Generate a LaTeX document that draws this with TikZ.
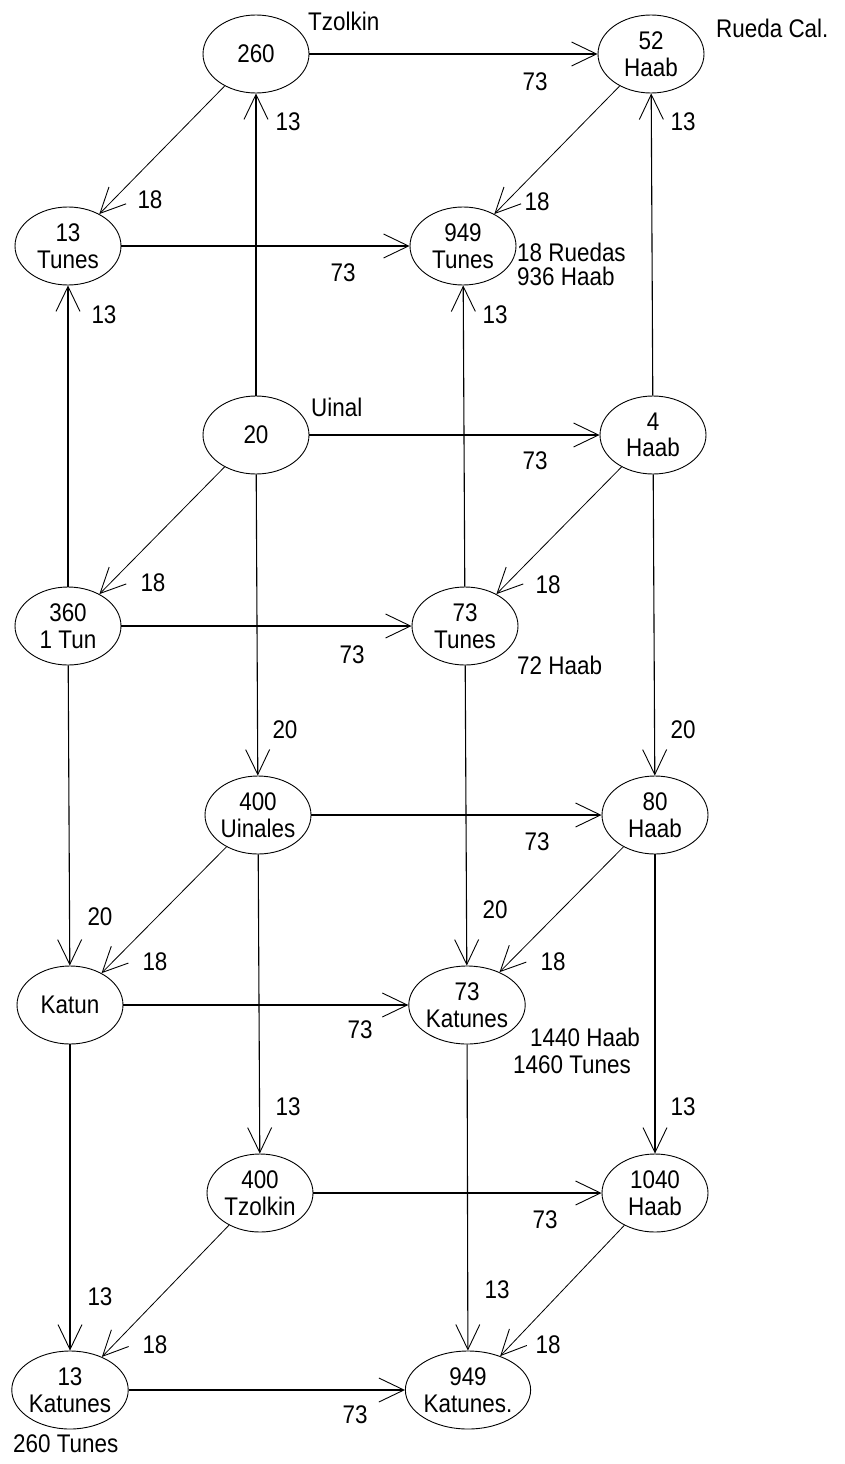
\documentclass[tikz,border=0pt]{standalone}
\usepackage{fontspec}
\setmainfont{Liberation Sans}[FakeStretch=0.88]
\usetikzlibrary{shapes.geometric,arrows.meta}

\tikzset{
  state/.style={ellipse, draw, line width=0.9pt, minimum width=106pt, minimum height=78pt,
    inner sep=0pt, align=center, font=\fontsize{25.5}{26.5}\selectfont},
  link/.style={line width=1.1pt, -{Straight Barb[length=25pt,width=24pt,line width=0.9pt]}},
  diag/.style={link, line width=0.8pt},
  lbl/.style={font=\fontsize{25.5}{26.5}\selectfont, inner sep=0pt},
  note/.style={lbl, anchor=west, align=left}
}

\begin{document}
\begin{tikzpicture}[x=1pt, y=-1pt]
\useasboundingbox (0,0) rectangle (845,1464);

% cycle nodes
\node[state] (n260)  at (256,54)   {260};
\node[state] (n52)   at (651,54)   {52\\Haab};
\node[state] (n13T)  at (68,246)   {13\\Tunes};
\node[state] (n949T) at (463,246)  {949\\Tunes};
\node[state] (n20)   at (256,435)  {20};
\node[state] (n4H)   at (653,435)  {4\\Haab};
\node[state] (n360)  at (68,626)   {360\\1 Tun};
\node[state] (n73T)  at (465,626)  {73\\Tunes};
\node[state] (n400U) at (258,815)  {400\\Uinales};
\node[state] (n80H)  at (655,815)  {80\\Haab};
\node[state] (nKat)  at (70,1005)  {Katun};
\node[state] (n73K)  at (467,1005) {73\\Katunes};
\node[state] (n400Z) at (260,1193) {400\\Tzolkin};
\node[state] (n1040) at (655,1193) {1040\\Haab};
\node[state] (n13K)  at (70,1390)  {13\\Katunes};
\node[state] (n949K) at (468,1390) {949\\Katunes.};

% side notes
\node[note] (tTz)  at (308,21)   {Tzolkin};
\node[note] (tRc)  at (716,28)   {Rueda Cal.};
\node[note] (tUi)  at (311,407)  {Uinal};
\node[note] (tRu)  at (517,252)  {18 Ruedas};
\node[note] (tHb)  at (517,276)  {936 Haab};
\node[note] (t72)  at (517,665)  {72 Haab};
\node[note] (t1440) at (530,1037) {1440 Haab};
\node[note] (t1460) at (513,1065) {1460 Tunes};
\node[note] (t260) at (13,1444)  {260 Tunes};

% horizontal connectors (x73)
\draw[link] (n260)  -- (n52);
\draw[link] (n13T)  -- (n949T);
\draw[link] (n20)   -- (n4H);
\draw[link] (n360)  -- (n73T);
\draw[link] (n400U) -- (n80H);
\draw[link] (nKat)  -- (n73K);
\draw[link] (n400Z) -- (n1040);
\draw[link] (n13K)  -- (n949K);
\node[lbl] (h1) at (535,82)   {73};
\node[lbl] (h2) at (343,273)  {73};
\node[lbl] (h3) at (535,461)  {73};
\node[lbl] (h4) at (352,655)  {73};
\node[lbl] (h5) at (537,842)  {73};
\node[lbl] (h6) at (360,1030) {73};
\node[lbl] (h7) at (545,1220) {73};
\node[lbl] (h8) at (355,1415) {73};

% upward connectors (x13)
\draw[link] (n20)  -- (n260);
\draw[link] (n360) -- (n13T);
\draw[link] (n73T) -- (n949T);
\draw[link] (n4H)  -- (n52);
\node[lbl] (u1) at (288,122) {13};
\node[lbl] (u2) at (104,315) {13};
\node[lbl] (u3) at (495,315) {13};
\node[lbl] (u4) at (683,122) {13};

% diagonal connectors (x18)
\draw[diag] (n260)  -- (n13T);
\draw[diag] (n52)   -- (n949T);
\draw[diag] (n20)   -- (n360);
\draw[diag] (n4H)   -- (n73T);
\draw[diag] (n400U) -- (nKat);
\draw[diag] (n80H)  -- (n73K);
\draw[diag] (n400Z) -- (n13K);
\draw[diag] (n1040) -- (n949K);
\node[lbl] (d1) at (150,200)  {18};
\node[lbl] (d2) at (537,202)  {18};
\node[lbl] (d3) at (153,583)  {18};
\node[lbl] (d4) at (548,585)  {18};
\node[lbl] (d5) at (155,962)  {18};
\node[lbl] (d6) at (553,962)  {18};
\node[lbl] (d7) at (155,1345) {18};
\node[lbl] (d8) at (548,1345) {18};

% downward connectors (x20, x13)
\draw[link] (n20)  -- (n400U);
\draw[link] (n4H)  -- (n80H);
\draw[link] (n360) -- (nKat);
\draw[link] (n73T) -- (n73K);
\draw[link] (n400U) -- (n400Z);
\draw[link] (n80H)  -- (n1040);
\draw[link] (nKat)  -- (n13K);
\draw[link] (n73K)  -- (n949K);
\node[lbl] (v1) at (285,730)  {20};
\node[lbl] (v2) at (683,730)  {20};
\node[lbl] (v3) at (100,917)  {20};
\node[lbl] (v4) at (495,910)  {20};
\node[lbl] (v5) at (288,1107) {13};
\node[lbl] (v6) at (683,1107) {13};
\node[lbl] (v7) at (100,1297) {13};
\node[lbl] (v8) at (497,1290) {13};
\end{tikzpicture}
\end{document}
